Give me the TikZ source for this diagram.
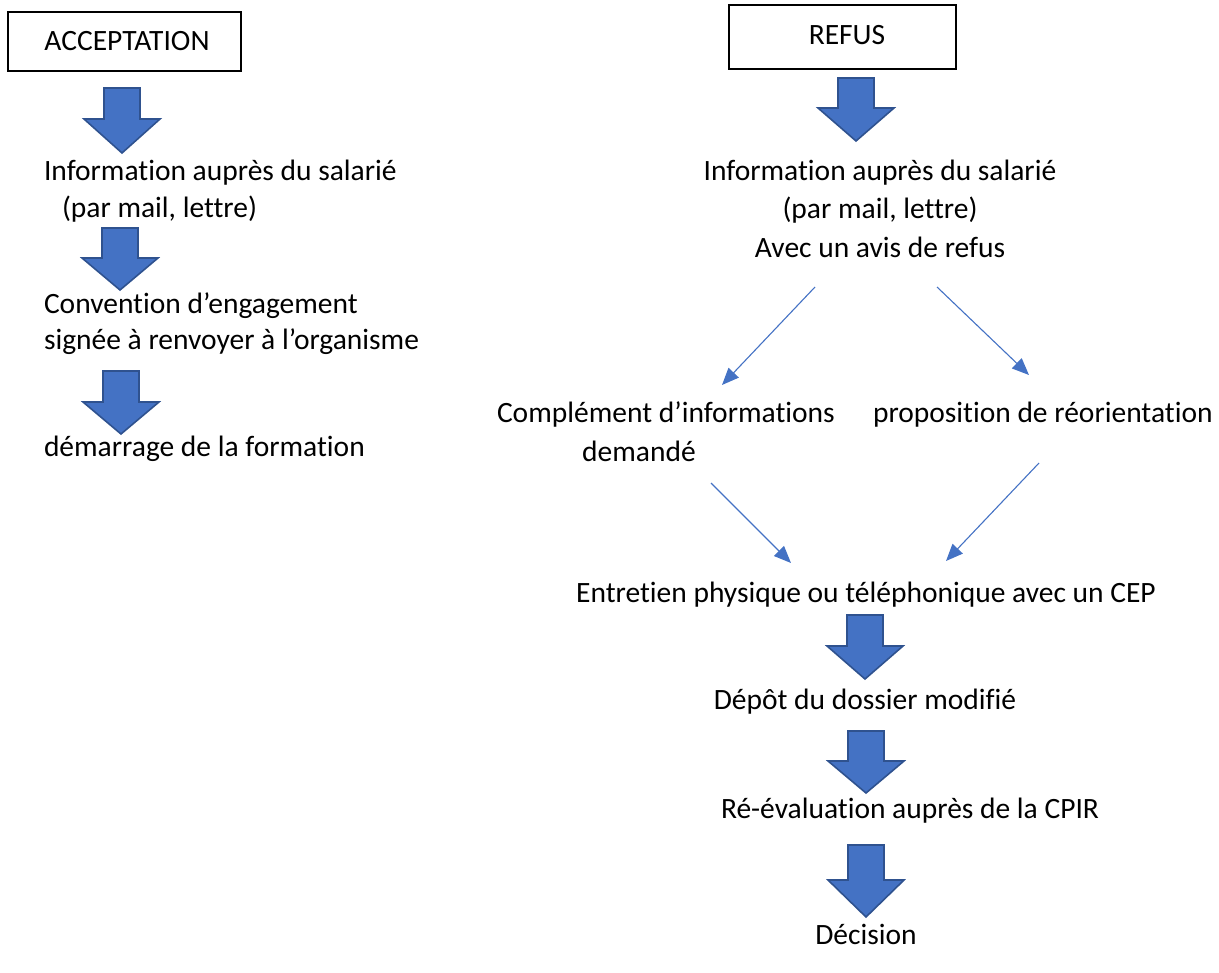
\documentclass[tikz,border=0pt]{standalone}
\usepackage{fontspec}
\setmainfont{Carlito}[Ligatures={TeX,NoCommon}]
\usetikzlibrary{arrows.meta}
\definecolor{bafill}{HTML}{4472C4}
\definecolor{badraw}{HTML}{2F528F}
\definecolor{thinblue}{HTML}{4472C4}
\newcommand\blockarrow[4]{% cx, top, headstart, tip
  \draw[blockarr] ({#1-18},#2) -- ({#1+18},#2) -- ({#1+18},#3) -- ({#1+38},#3)
    -- (#1,#4) -- ({#1-38},#3) -- ({#1-18},#3) -- cycle;}
\begin{document}
\begin{tikzpicture}[x=0.5pt,y=-0.5pt,
  every node/.style={font=\fontsize{14.75}{17.7}\selectfont, inner sep=0pt, outer sep=0pt},
  txt/.style={anchor=base west},
  ctxt/.style={anchor=base},
  titlebox/.style={draw=black, line width=0.6pt},
  blockarr/.style={fill=bafill, draw=badraw, line width=0.8pt, line join=miter},
  thinarr/.style={draw=thinblue, line width=0.55pt, -{Triangle[length=8.5pt,width=7pt]}}]
\useasboundingbox (0,0) rectangle (1219,973);
% boxes
\draw[titlebox] (8,12) rectangle (241,71);
\node[ctxt] (acc) at (127,51) {ACCEPTATION};
\draw[titlebox] (729,5) rectangle (956,69);
\node[ctxt] (ref) at (847,45) {REFUS};
% left column
\blockarrow{122}{88}{119}{153}
\node[txt] (l1) at (44,181) {Information auprès du salarié};
\node[txt] (l2) at (62,218) {(par mail, lettre)};
\blockarrow{120}{228}{258}{290}
\node[txt] (l3) at (44,313) {Convention d’engagement};
\node[txt] (l4) at (44,349) {signée à renvoyer à l’organisme};
\blockarrow{121}{371}{402}{434}
\node[txt] (l5) at (44,456) {démarrage de la formation};
% right column
\blockarrow{856}{78}{108}{141}
\node[ctxt] (r1) at (880,181) {Information auprès du salarié};
\node[ctxt] (r2) at (880,219) {(par mail, lettre)};
\node[ctxt] (r3) at (880,257) {Avec un avis de refus};
\node[txt] (c1) at (497,422) {Complément d’informations};
\node[ctxt] (c2) at (639,461) {demandé};
\node[txt] (p1) at (873,422) {proposition de réorientation};
\node[ctxt] (e1) at (866,602) {Entretien physique ou téléphonique avec un CEP};
\blockarrow{865}{615}{646}{679}
\node[ctxt] (d1) at (865,709) {Dépôt du dossier modifié};
\blockarrow{866}{731}{761}{793}
\node[ctxt] (v1) at (910,818) {Ré-évaluation auprès de la CPIR};
\blockarrow{866}{845}{880}{917}
\node[ctxt] (dd) at (866,944) {Décision};
% thin connectors
\coordinate (a1s) at (815,287); \coordinate (a1e) at (722,385);
\coordinate (a2s) at (937,287); \coordinate (a2e) at (1029,375);
\coordinate (a3s) at (711,483); \coordinate (a3e) at (791,563);
\coordinate (a4s) at (1039,463); \coordinate (a4e) at (946,561);
\draw[thinarr] (a1s) -- (a1e);
\draw[thinarr] (a2s) -- (a2e);
\draw[thinarr] (a3s) -- (a3e);
\draw[thinarr] (a4s) -- (a4e);
\end{tikzpicture}
\end{document}
